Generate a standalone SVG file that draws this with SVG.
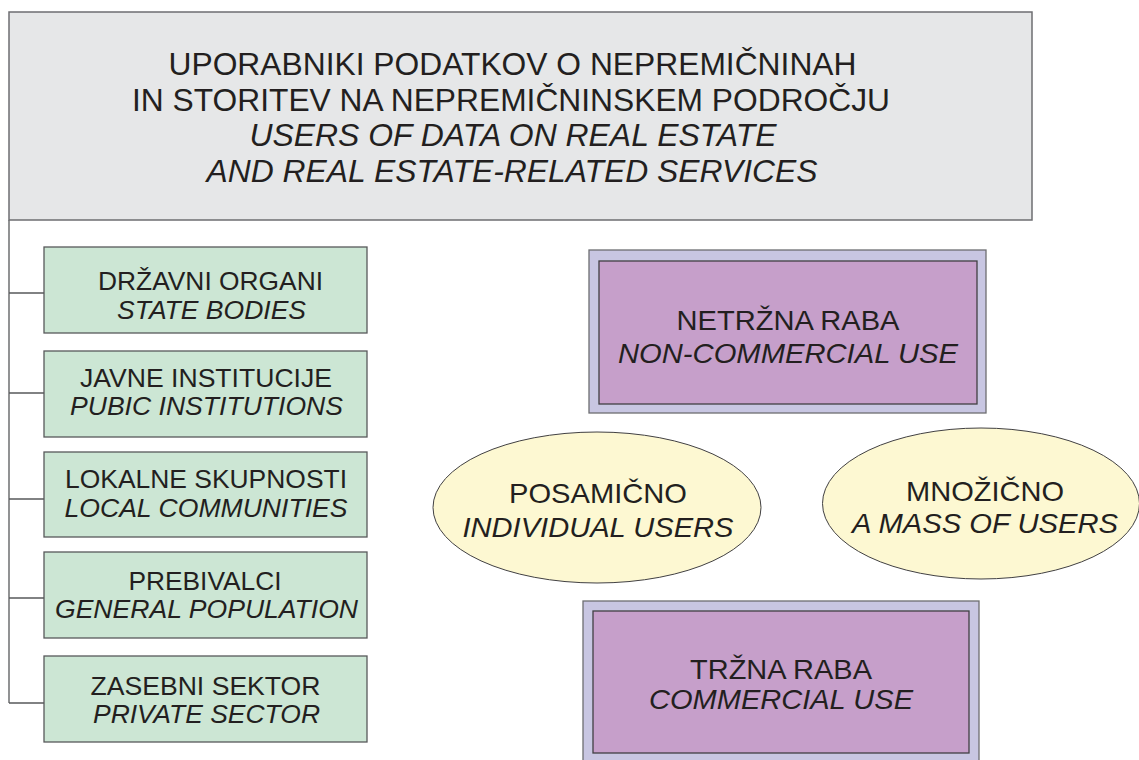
<svg xmlns="http://www.w3.org/2000/svg" width="1139" height="760" viewBox="0 0 1139 760">
<style>
text{font-family:"Liberation Sans",Arial,Helvetica,sans-serif;fill:#231f20;text-anchor:middle}
.it{font-style:italic}
.title{font-size:31.5px}
.g{font-size:26px}
.p{font-size:28.5px}
.e{font-size:28.5px}
.top{fill:#e6e7e8;stroke:#6d6e71;stroke-width:1.5}
.green{fill:#cce6d4;stroke:#58595b;stroke-width:1.3}
.pout{fill:#c8c6e2;stroke:#6d6e71;stroke-width:1.3}
.pin{fill:#c69fca;stroke:#414042;stroke-width:1.3}
.ell{fill:#fdf8d2;stroke:#414042;stroke-width:1}
.conn{fill:none;stroke:#58595b;stroke-width:1.3}
</style>
<rect width="1139" height="760" fill="#ffffff"/>
<g id="connectors">
<path class="conn" d="M9,220 V703 M9,293 H44 M9,393 H44 M9,499 H44 M9,598 H44 M9,703 H44"/>
</g>
<g id="title">
<rect class="top" x="9" y="12" width="1023" height="208"/>
<text class="title" x="512.5" y="75" textLength="688" lengthAdjust="spacingAndGlyphs">UPORABNIKI PODATKOV O NEPREMIČNINAH</text>
<text class="title" x="511" y="110.5" textLength="758" lengthAdjust="spacingAndGlyphs">IN STORITEV NA NEPREMIČNINSKEM PODROČJU</text>
<text class="title it" x="513" y="146" textLength="527" lengthAdjust="spacingAndGlyphs">USERS OF DATA ON REAL ESTATE</text>
<text class="title it" x="512" y="181.5" textLength="611" lengthAdjust="spacingAndGlyphs">AND REAL ESTATE-RELATED SERVICES</text>
</g>
<g id="state-bodies">
<rect class="green" x="44" y="247" width="323" height="86"/>
<text class="g" x="210.5" y="290" textLength="225" lengthAdjust="spacingAndGlyphs">DRŽAVNI ORGANI</text>
<text class="g it" x="211.5" y="319" textLength="189" lengthAdjust="spacingAndGlyphs">STATE BODIES</text>
</g>
<g id="public-institutions">
<rect class="green" x="44" y="351" width="323" height="86"/>
<text class="g" x="206" y="387" textLength="252" lengthAdjust="spacingAndGlyphs">JAVNE INSTITUCIJE</text>
<text class="g it" x="206.5" y="415" textLength="273" lengthAdjust="spacingAndGlyphs">PUBIC INSTITUTIONS</text>
</g>
<g id="local-communities">
<rect class="green" x="44" y="452" width="323" height="85"/>
<text class="g" x="206" y="488" textLength="282" lengthAdjust="spacingAndGlyphs">LOKALNE SKUPNOSTI</text>
<text class="g it" x="206" y="517" textLength="283" lengthAdjust="spacingAndGlyphs">LOCAL COMMUNITIES</text>
</g>
<g id="general-population">
<rect class="green" x="44" y="552" width="323" height="86"/>
<text class="g" x="205" y="590" textLength="153" lengthAdjust="spacingAndGlyphs">PREBIVALCI</text>
<text class="g it" x="206.5" y="618" textLength="303" lengthAdjust="spacingAndGlyphs">GENERAL POPULATION</text>
</g>
<g id="private-sector">
<rect class="green" x="44" y="656" width="323" height="86"/>
<text class="g" x="205.5" y="695" textLength="230" lengthAdjust="spacingAndGlyphs">ZASEBNI SEKTOR</text>
<text class="g it" x="206.5" y="723" textLength="227" lengthAdjust="spacingAndGlyphs">PRIVATE SECTOR</text>
</g>
<g id="non-commercial-use">
<rect class="pout" x="589" y="250" width="397" height="163"/>
<rect class="pin" x="599" y="261" width="378" height="143"/>
<text class="p" x="788" y="330" textLength="223" lengthAdjust="spacingAndGlyphs">NETRŽNA RABA</text>
<text class="p it" x="788" y="363" textLength="340" lengthAdjust="spacingAndGlyphs">NON-COMMERCIAL USE</text>
</g>
<g id="individual-users">
<ellipse class="ell" cx="597" cy="507.5" rx="164" ry="75.5"/>
<text class="e" x="598" y="503" textLength="178" lengthAdjust="spacingAndGlyphs">POSAMIČNO</text>
<text class="e it" x="598" y="537" textLength="271" lengthAdjust="spacingAndGlyphs">INDIVIDUAL USERS</text>
</g>
<g id="mass-of-users">
<ellipse class="ell" cx="981" cy="503.5" rx="158.5" ry="75.5"/>
<text class="e" x="985" y="501" textLength="158" lengthAdjust="spacingAndGlyphs">MNOŽIČNO</text>
<text class="e it" x="985" y="533" textLength="266" lengthAdjust="spacingAndGlyphs">A MASS OF USERS</text>
</g>
<g id="commercial-use">
<rect class="pout" x="583" y="601" width="396" height="165"/>
<rect class="pin" x="593" y="611" width="376" height="142"/>
<text class="p" x="781" y="679" textLength="182" lengthAdjust="spacingAndGlyphs">TRŽNA RABA</text>
<text class="p it" x="781" y="709" textLength="264" lengthAdjust="spacingAndGlyphs">COMMERCIAL USE</text>
</g>
</svg>
